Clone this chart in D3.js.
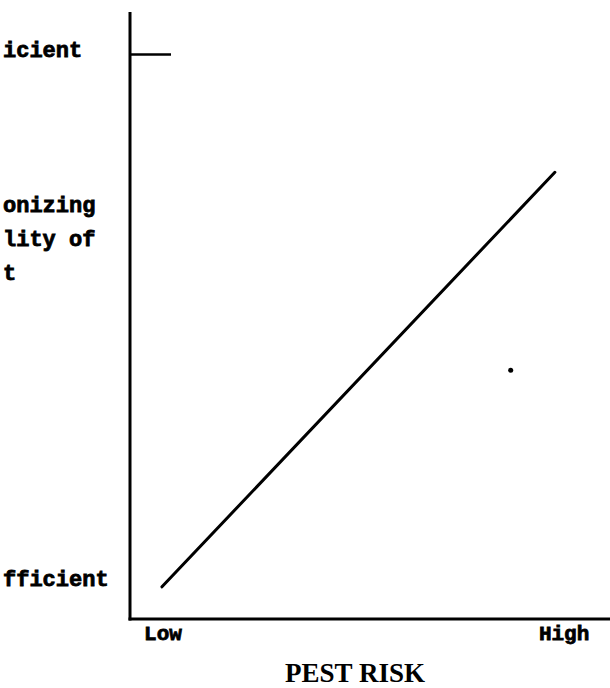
<!DOCTYPE html>
<html>
<head>
<meta charset="utf-8">
<script src="https://cdn.jsdelivr.net/npm/d3@7"></script>
<style>
  html, body { margin: 0; padding: 0; background: #fff; }
  svg { display: block; }
</style>
</head>
<body>
<svg id="chart" width="610" height="688"></svg>
<script>
// Pest risk vs economizing ability (values in 0..100 units on both axes)
const riskTicks = ['Low', 'High'];
const riskTickValues = [3, 87];
const lineRisk = [6.8, 90.4];
const lineEcon = [5.3, 73.6];
const tickEcon = [93];
const dotRisk = [81];
const dotEcon = [41];
const yLabelLines = [
    { text: 'icient', value: 92.6 },
    { text: 'onizing', value: 67 },
    { text: 'lity of', value: 61.4 },
    { text: 't', value: 55.8 },
    { text: 'fficient', value: 5.4 }
];

const svg = d3.select('#chart');
const x = d3.scaleLinear().domain([0, 100]).range([130, 600]);
const y = d3.scaleLinear().domain([0, 100]).range([619, 12]);

const mono = '"Liberation Mono", "DejaVu Sans Mono", monospace';

// Axes
svg.append('line')
    .attr('x1', x(0)).attr('x2', x(0))
    .attr('y1', y(100)).attr('y2', y(0) + 1.5)
    .attr('stroke', '#000').attr('stroke-width', 3);
svg.append('line')
    .attr('x1', x(0) - 1.5).attr('x2', 610)
    .attr('y1', y(0)).attr('y2', y(0))
    .attr('stroke', '#000').attr('stroke-width', 3);

// Small tick at top of y axis
svg.selectAll('.tick-top')
    .data(tickEcon)
    .enter().append('line')
    .attr('x1', x(0)).attr('x2', x(0) + 41)
    .attr('y1', d => y(d)).attr('y2', d => y(d))
    .attr('stroke', '#000').attr('stroke-width', 2.5);

// Diagonal relationship line
const lineData = lineRisk.map((r, i) => [r, lineEcon[i]]);
svg.append('path')
    .datum(lineData)
    .attr('d', d3.line().x(d => x(d[0])).y(d => y(d[1])))
    .attr('fill', 'none')
    .attr('stroke', '#000')
    .attr('stroke-width', 3)
    .attr('stroke-linecap', 'round');

// Stray dot
svg.selectAll('.dot')
    .data(dotRisk)
    .enter().append('circle')
    .attr('cx', d => x(d)).attr('cy', (d, i) => y(dotEcon[i]))
    .attr('r', 2.5)
    .attr('fill', '#000');

// Y-axis labels (cut off at the left edge)
svg.selectAll('.ylab')
    .data(yLabelLines)
    .enter().append('text')
    .attr('x', 3)
    .attr('y', d => y(d.value))
    .attr('font-family', mono)
    .attr('font-weight', 'bold')
    .attr('font-size', 22)
    .attr('fill', '#000')
    .attr('stroke', '#000')
    .attr('stroke-width', 0.8)
    .text(d => d.text);

// X-axis tick labels
svg.selectAll('.xlab')
    .data(riskTicks)
    .enter().append('text')
    .attr('x', (d, i) => x(riskTickValues[i]))
    .attr('y', 640)
    .attr('font-family', mono)
    .attr('font-weight', 'bold')
    .attr('font-size', 21)
    .attr('fill', '#000')
    .attr('stroke', '#000')
    .attr('stroke-width', 0.8)
    .text(d => d);

// X-axis title
svg.append('text')
    .attr('x', 355)
    .attr('y', 682)
    .attr('text-anchor', 'middle')
    .attr('font-family', '"Liberation Serif", "DejaVu Serif", serif')
    .attr('font-weight', 'bold')
    .attr('font-size', 27)
    .attr('fill', '#000')
    .text('PEST RISK');
</script>
</body>
</html>
